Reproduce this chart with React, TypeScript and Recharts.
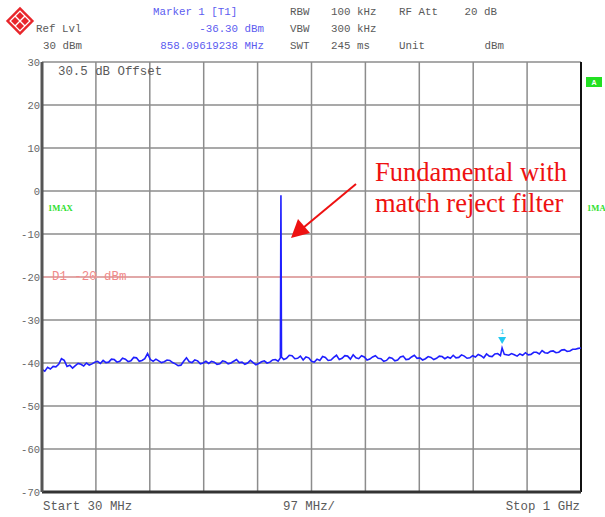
import { LineChart, Line, XAxis, YAxis, CartesianGrid, ReferenceLine, ReferenceDot } from 'recharts'

// sweep 30 MHz .. 1 GHz, max-hold trace (dBm, incl. 30.5 dB offset)
const freqMHz = [
  30, 35, 40, 45, 50, 55, 60, 65, 70, 75, 80, 85, 90, 95, 100, 105, 110, 115, 120, 125,
  130, 135, 140, 145, 150, 155, 160, 165, 170, 175, 180, 185, 190, 195, 200, 205, 210, 215,
  220, 225, 230, 235, 240, 245, 250, 255, 260, 265, 270, 275, 280, 285, 290, 295, 300, 305,
  310, 315, 320, 325, 330, 335, 340, 345, 350, 355, 360, 365, 370, 375, 380, 385, 390, 395,
  400, 405, 410, 415, 420, 425, 430, 435, 440, 445, 450, 455, 459, 460, 461, 465, 470, 475,
  480, 485, 490, 495, 500, 505, 510, 515, 520, 525, 530, 535, 540, 545, 550, 555, 560, 565,
  570, 575, 580, 585, 590, 595, 600, 605, 610, 615, 620, 625, 630, 635, 640, 645, 650, 655,
  660, 665, 670, 675, 680, 685, 690, 695, 700, 705, 710, 715, 720, 725, 730, 735, 740, 745,
  750, 755, 760, 765, 770, 775, 780, 785, 790, 795, 800, 805, 810, 815, 820, 825, 830, 835,
  840, 845, 850, 855, 858, 862, 870, 875, 880, 885, 890, 895, 900, 905, 910, 915, 920, 925,
  930, 935, 940, 945, 950, 955, 960, 965, 970, 975, 980, 985, 990, 995, 1000,
]
const levelDbm = [
  -41.5, -41.9, -41.0, -41.4, -40.8, -40.9, -40.3, -39.0, -39.4, -40.8, -40.5, -41.2, -40.6, -40.1, -40.3, -40.7, -40.0, -40.5, -40.2, -39.8,
  -39.6, -40.1, -39.4, -39.9, -39.8, -39.1, -39.2, -39.8, -39.6, -38.9, -39.1, -39.7, -39.5, -38.7, -38.8, -39.6, -39.4, -39.0,
  -37.8, -39.2, -39.6, -39.1, -39.5, -39.9, -39.7, -39.3, -39.4, -39.9, -40.2, -40.6, -40.5, -39.6, -38.8, -39.7, -39.9, -39.3,
  -39.5, -40.2, -40.0, -39.6, -40.1, -39.6, -39.8, -40.3, -40.2, -39.5, -39.7, -40.2, -40.0, -39.6, -39.2, -39.9, -39.8, -40.3,
  -40.0, -39.4, -39.9, -40.4, -40.1, -39.7, -39.5, -40.0, -39.8, -39.3, -39.2, -39.6, -38.8, -1.0, -38.6, -39.2, -38.9, -38.2,
  -38.3, -39.0, -38.9, -38.4, -39.3, -38.6, -38.8, -39.6, -39.8, -39.1, -39.4, -38.5, -38.7, -39.4, -39.3, -38.7, -38.2, -39.2,
  -38.9, -38.3, -38.4, -39.1, -38.1, -38.8, -39.0, -38.3, -38.6, -39.3, -39.1, -38.6, -38.3, -38.9, -39.0, -39.6, -39.4, -38.7,
  -38.9, -39.5, -39.3, -38.6, -38.4, -39.2, -39.1, -38.6, -38.2, -38.9, -38.8, -39.3, -39.0, -38.5, -38.7, -39.2, -38.9, -38.4,
  -38.5, -39.0, -38.6, -38.9, -38.2, -38.8, -38.7, -38.1, -38.4, -38.9, -38.8, -38.3, -38.6, -38.0, -38.3, -38.8, -37.9, -38.4,
  -38.5, -37.9, -37.8, -38.3, -36.5, -38.0, -38.2, -37.8, -38.1, -38.4, -37.9, -38.2, -37.6, -38.1, -38.0, -37.5, -37.5, -37.9,
  -37.1, -37.6, -37.7, -37.3, -37.2, -37.6, -37.5, -37.0, -36.9, -37.3, -37.2, -36.8, -36.8, -36.6, -36.5,
]
const yTicks = [30, 20, 10, 0, -10, -20, -30, -40, -50, -60, -70]
const xGrid = [127, 224, 321, 418, 515, 612, 709, 806, 903]
const markerFreq = 858.09619238
const markerLevel = -36.3
const displayLine = -20

const trace = freqMHz.map((f, i) => ({ f, level: levelDbm[i] }))

const mono = '"Liberation Mono", "DejaVu Sans Mono", monospace'
const serif = '"Liberation Serif", "Times New Roman", serif'
const grey = '#5a5a5a'
const blue = '#5c5cf0'

function MarkerShape({ cx, cy }: { cx?: number; cy?: number }) {
  if (cx == null || cy == null) return null
  return (
    <g>
      <polygon points={`${cx - 4},${cy - 10} ${cx + 4},${cy - 10} ${cx},${cy - 3}`} fill="#22c8f0" />
      <text x={cx} y={cy - 13} textAnchor="middle" fontSize={7} fill="#22c8f0" fontFamily={mono}>1</text>
    </g>
  )
}

function Overlay() {
  const t = (x: number, y: number, s: string, o: Record<string, unknown> = {}) => (
    <text x={x} y={y} dominantBaseline="central" fontFamily={mono} fontSize={10.8} fill={grey} {...o}>{s}</text>
  )
  return (
    <svg width={605} height={517} style={{ position: 'absolute', left: 0, top: 0, pointerEvents: 'none' }}>
      {/* R&S logo */}
      <g transform="translate(20,21) rotate(45)">
        <rect x={-10} y={-10} width={20} height={20} fill="#e8262b" />
        <rect x={-7} y={-7} width={14} height={14} fill="none" stroke="#fff" strokeWidth={1.3} />
        <line x1={-7} y1={0} x2={7} y2={0} stroke="#fff" strokeWidth={1.3} />
        <line x1={0} y1={-7} x2={0} y2={7} stroke="#fff" strokeWidth={1.3} />
      </g>
      {t(153, 12, 'Marker 1 [T1]', { fill: blue })}
      {t(290, 12, 'RBW')}
      {t(331, 12, '100 kHz')}
      {t(399, 12, 'RF Att')}
      {t(497, 12, '20 dB', { textAnchor: 'end' })}
      {t(36, 29, 'Ref Lvl')}
      {t(264, 29, '-36.30 dBm', { textAnchor: 'end', fill: blue })}
      {t(290, 29, 'VBW')}
      {t(331, 29, '300 kHz')}
      {t(43, 46, '30 dBm')}
      {t(264, 46, '858.09619238 MHz', { textAnchor: 'end', fill: blue })}
      {t(290, 46, 'SWT')}
      {t(331, 46, '245 ms')}
      {t(399, 46, 'Unit')}
      {t(504, 46, 'dBm', { textAnchor: 'end' })}

      {t(58, 72, '30.5 dB Offset', { fontSize: 12.4 })}
      {t(52, 277, 'D1 -20 dBm', { fontSize: 12.4, fill: '#f08a8a' })}
      <text x={48} y={208} dominantBaseline="central" fontFamily={serif} fontWeight="bold" fontSize={8.6} fill="#2ee02e">1MAX</text>
      <text x={587} y={208} dominantBaseline="central" fontFamily={serif} fontWeight="bold" fontSize={8.6} fill="#2ee02e">1MA</text>
      <rect x={586} y={77} width={16} height={10} fill="#22e022" />
      <text x={594} y={82} textAnchor="middle" dominantBaseline="central" fontFamily='"Liberation Sans", sans-serif' fontWeight="bold" fontSize={7} fill="#fff">A</text>

      {t(43, 507, 'Start 30 MHz', { fontSize: 12.4 })}
      {t(309, 507, '97 MHz/', { fontSize: 12.4, textAnchor: 'middle' })}
      {t(580, 507, 'Stop 1 GHz', { fontSize: 12.4, textAnchor: 'end' })}

      {/* annotation */}
      <text x={375} y={172} dominantBaseline="central" fontFamily={serif} fontSize={26.5} fill="#ee1111">Fundamental with</text>
      <text x={375} y={203} dominantBaseline="central" fontFamily={serif} fontSize={26.5} fill="#ee1111">match reject filter</text>
      <line x1={356} y1={184} x2={303} y2={228} stroke="#ee1111" strokeWidth={2} />
      <polygon points="291,238 298,219 310,233" fill="#ee1111" />
    </svg>
  )
}

export default function App() {
  return (
    <div style={{ position: 'absolute', left: 0, top: 0, width: 605, height: 517, background: '#fff' }}>
      <LineChart width={605} height={517} data={trace} margin={{ top: 62, right: 24, bottom: 24, left: 2 }}>
        <CartesianGrid stroke="#8c8c8c" strokeWidth={1.5} vertical={false} />
        {xGrid.map((g) => (
          <ReferenceLine key={g} x={g} stroke="#8c8c8c" strokeWidth={1.5} />
        ))}
        <XAxis
          dataKey="f"
          type="number"
          domain={[30, 1000]}
          ticks={[30, ...xGrid, 1000]}
          tick={false}
          tickLine={false}
          height={1}
          axisLine={{ stroke: '#333', strokeWidth: 3 }}
        />
        <YAxis
          type="number"
          domain={[-70, 30]}
          ticks={yTicks}
          width={40}
          tickSize={0}
          tickMargin={2}
          axisLine={{ stroke: '#555', strokeWidth: 3 }}
          tick={{ fontFamily: mono, fontSize: 10.5, fill: '#666' }}
          interval={0}
        />
        <ReferenceLine y={displayLine} stroke="#f5a8a8" strokeWidth={1.5} />
        <ReferenceLine x={1000} stroke="#111" strokeWidth={2} />
        <Line
          dataKey="level"
          type="linear"
          stroke="#1f1fff"
          strokeWidth={1.6}
          dot={false}
          isAnimationActive={false}
        />
        <ReferenceDot x={markerFreq} y={markerLevel} r={0} shape={MarkerShape} />
      </LineChart>
      <Overlay />
    </div>
  )
}
